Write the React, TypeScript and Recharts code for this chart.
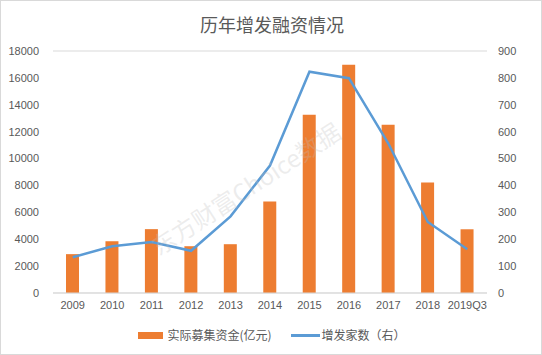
import React from 'react';
import { ComposedChart, Bar, Line, XAxis, YAxis, CartesianGrid, Legend } from 'recharts';

const years = ['2009', '2010', '2011', '2012', '2013', '2014', '2015', '2016', '2017', '2018', '2019Q3'];
const raised = [2890, 3850, 4750, 3480, 3630, 6810, 13260, 16970, 12520, 8220, 4740];
const issuers = [133, 174, 190, 157, 285, 474, 823, 799, 556, 264, 163];
const leftTicks = [0, 2000, 4000, 6000, 8000, 10000, 12000, 14000, 16000, 18000];
const rightTicks = [0, 100, 200, 300, 400, 500, 600, 700, 800, 900];

const BAR_NAME = '实际募集资金(亿元)';
const LINE_NAME = '增发家数（右）';
const ORANGE = '#ED7D31';
const BLUE = '#5B9BD5';
const TEXT = '#595959';
const FONT = '"Liberation Sans", "Noto Sans CJK SC", sans-serif';

const data = years.map((y, i) => ({ year: y, raised: raised[i], issuers: issuers[i] }));

const renderLegend = () => (
    <div style={{ height: 24, paddingTop: 8, boxSizing: 'border-box', display: 'flex', justifyContent: 'center', fontSize: 12, color: TEXT, fontFamily: '"Noto Sans CJK SC", sans-serif', lineHeight: '16px' }}>
        <div style={{ display: 'flex', alignItems: 'center', marginRight: 19 }}>
            <span style={{ display: 'inline-block', width: 25, height: 7, background: ORANGE, marginRight: 4 }} />
            <span>{BAR_NAME}</span>
        </div>
        <div style={{ display: 'flex', alignItems: 'center' }}>
            <span style={{ display: 'inline-block', width: 29, height: 3, background: BLUE, marginRight: 2 }} />
            <span>{LINE_NAME}</span>
        </div>
    </div>
);

const App: React.FC = () => {
    const tick = { fill: TEXT, fontSize: 11, fontFamily: FONT };
    return (
        <div style={{ position: 'absolute', left: 0, top: 0, width: 542, height: 355, background: '#fff', border: '1px solid #d9d9d9', boxSizing: 'border-box', overflow: 'hidden' }}>
            <div style={{ position: 'absolute', left: 0, top: 10, width: 542, textAlign: 'center', fontSize: 18, color: TEXT, fontFamily: '"Noto Sans CJK SC", sans-serif', lineHeight: '26px' }}>
                历年增发融资情况
            </div>
            <div style={{ position: 'absolute', left: 0, top: -1 }}>
                <ComposedChart width={542} height={355} data={data} margin={{ top: 51, right: 0, left: 0, bottom: 12 }}>
                    <CartesianGrid vertical={false} stroke="#d9d9d9" />
                    <XAxis dataKey="year" tick={tick} tickLine={false} axisLine={{ stroke: '#d9d9d9' }} height={26} interval={0} />
                    <YAxis yAxisId="left" domain={[0, 18000]} ticks={leftTicks} tick={tick} tickLine={false} axisLine={false} width={52} tickMargin={8} />
                    <YAxis yAxisId="right" orientation="right" domain={[0, 900]} ticks={rightTicks} tick={tick} tickLine={false} axisLine={false} width={56} tickMargin={5} />
                    <Legend verticalAlign="bottom" content={renderLegend} />
                    <Bar yAxisId="left" dataKey="raised" name={BAR_NAME} fill={ORANGE} barSize={13} isAnimationActive={false} />
                    <Line yAxisId="right" dataKey="issuers" name={LINE_NAME} type="linear" stroke={BLUE} strokeWidth={2.5} dot={false} isAnimationActive={false} />
                </ComposedChart>
            </div>
            <div style={{ position: 'absolute', left: 135, top: 172, width: 210, textAlign: 'center', transform: 'rotate(-33deg)', fontSize: 24, color: 'rgba(190,190,190,0.28)', fontFamily: '"Noto Sans CJK SC", sans-serif', pointerEvents: 'none', whiteSpace: 'nowrap' }}>
                东方财富Choice数据
            </div>
        </div>
    );
};

export default App;
